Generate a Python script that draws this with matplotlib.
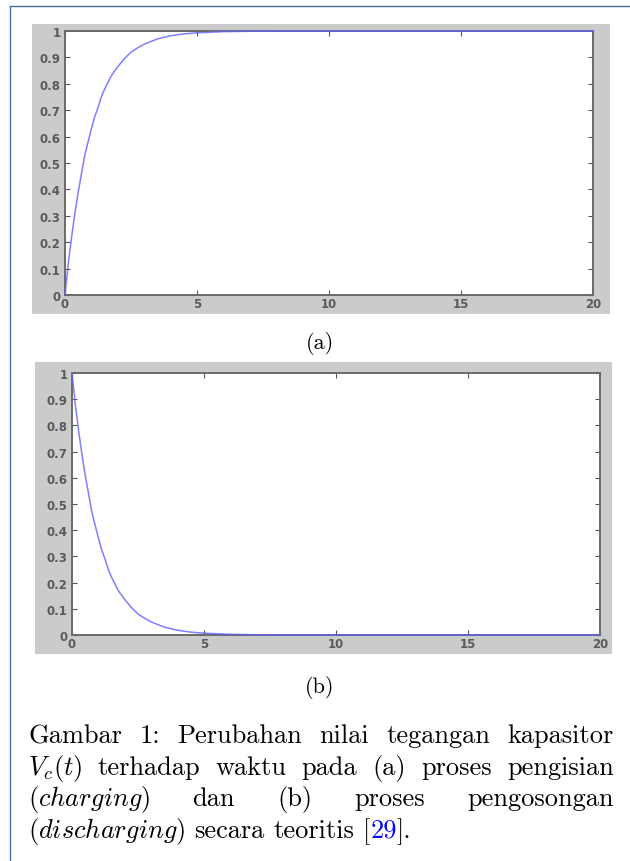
import matplotlib
matplotlib.use("Agg")
import matplotlib.pyplot as plt
from matplotlib.patches import Rectangle
from matplotlib.lines import Line2D

plt.rcParams['mathtext.fontset'] = 'cm'

W, H = 630, 862

# data: time (s) and normalised capacitor voltage
t_charge = [0, 0.125, 0.25, 0.375, 0.5, 0.625, 0.75, 0.875, 1, 1.125, 1.25, 1.375,
            1.5, 1.75, 2, 2.25, 2.5, 2.75, 3, 3.5, 4, 4.5, 5, 6, 7, 8, 10, 15, 20]
v_charge = [0, 0.12, 0.22, 0.31, 0.39, 0.46, 0.53, 0.58, 0.63, 0.675, 0.71, 0.75,
            0.78, 0.83, 0.865, 0.895, 0.92, 0.936, 0.95, 0.97, 0.982, 0.989, 0.993,
            0.9975, 0.999, 1.0, 1.0, 1.0, 1.0]
t_discharge = [0, 0.125, 0.25, 0.375, 0.5, 0.625, 0.75, 0.875, 1, 1.125, 1.25, 1.375,
               1.5, 1.75, 2, 2.25, 2.5, 2.75, 3, 3.5, 4, 4.5, 5, 6, 7, 8, 10, 15, 20]
v_discharge = [1, 0.88, 0.78, 0.69, 0.61, 0.54, 0.47, 0.42, 0.37, 0.325, 0.29, 0.25,
               0.22, 0.17, 0.135, 0.105, 0.08, 0.064, 0.05, 0.03, 0.018, 0.011, 0.007,
               0.0025, 0.001, 0, 0, 0, 0]

x_ticks = [0, 5, 10, 15, 20]
y_ticks = [0, 0.1, 0.2, 0.3, 0.4, 0.5, 0.6, 0.7, 0.8, 0.9, 1]
y_labels = ['0', '0.1', '0.2', '0.3', '0.4', '0.5', '0.6', '0.7', '0.8', '0.9', '1']

caption_lines = [
    ["Gambar", "1:", "Perubahan", "nilai", "tegangan", "kapasitor"],
    ["$V_c(t)$", "terhadap", "waktu", "pada", "(a)", "proses", "pengisian"],
    ["($\\mathit{charging}$)", "dan", "(b)", "proses", "pengosongan"],
    ["($\\mathit{discharging}$)", "secara", "teoritis", "[29]."],
]


def fx(px):
    return px / W


def fy(py):
    return 1 - py / H


def rect(l, t, r, b):
    return [fx(l), fy(b), fx(r) - fx(l), fy(t) - fy(b)]


fig = plt.figure(figsize=(W / 100, H / 100), dpi=100)
fig.patch.set_facecolor('white')

# thin frame of the page box
fig.add_artist(Line2D([fx(9.5), fx(9.5)], [fy(7), 0], color='#4f6f92', lw=1.0))
fig.add_artist(Line2D([fx(9.5), 1], [fy(7), fy(7)], color='#4f6f92', lw=1.0))


def panel(box, axrect, t, v):
    bl, bt, br, bb = box
    fig.add_artist(Rectangle((fx(bl), fy(bb)), fx(br) - fx(bl), fy(bt) - fy(bb),
                             transform=fig.transFigure, facecolor='#cbcbcb',
                             edgecolor='none', zorder=0))
    ax = fig.add_axes(rect(*axrect))
    ax.set_facecolor('white')
    ax.plot(t, v, color='#5f5fff', lw=1.1, alpha=0.8, clip_on=False, zorder=3)
    ax.set_xlim(0, 20)
    ax.set_ylim(0, 1)
    ax.set_xticks(x_ticks)
    ax.set_xticklabels([str(x) for x in x_ticks])
    ax.set_yticks(y_ticks)
    ax.set_yticklabels(y_labels)
    ax.tick_params(direction='in', length=3.5, width=0.8, color='#555555',
                   top=True, right=True, labelsize=8.5, labelcolor='#5a5a5a')
    ax.tick_params(axis='x', pad=1.5)
    ax.tick_params(axis='y', pad=3)
    for lab in ax.get_xticklabels() + ax.get_yticklabels():
        lab.set_fontweight('bold')
    for sp in ax.spines.values():
        sp.set_color('#6a6a6a')
        sp.set_linewidth(1.4)
    return ax


panel((32, 25, 610, 315), (65, 32, 593, 296), t_charge, v_charge)
panel((35, 363, 612, 655), (72, 374, 600, 636), t_discharge, v_discharge)

fig.text(fx(320), fy(349), "(a)", family='cmr10', fontsize=16,
         ha='center', va='baseline')
fig.text(fx(320), fy(693), "(b)", family='cmr10', fontsize=16,
         ha='center', va='baseline')

# justified caption, placed word by word
fs = 19
renderer = fig.canvas.get_renderer()
x_left, x_right = 28, 614
baselines = [743, 775, 806, 838]
for i, (words, yb) in enumerate(zip(caption_lines, baselines)):
    last = i == len(caption_lines) - 1
    arts = []
    for w in words:
        if w == "[29].":
            parts = [("[", 'black'), ("29", 'blue'), ("].", 'black')]
        else:
            parts = [(w, 'black')]
        group = []
        for txt, col in parts:
            a = fig.text(0, fy(yb), txt, family='cmr10', fontsize=fs,
                         color=col, va='baseline', ha='left')
            group.append(a)
        arts.append(group)
    widths = []
    for group in arts:
        ws = [a.get_window_extent(renderer).width for a in group]
        widths.append(ws)
    total = sum(sum(ws) for ws in widths)
    if last:
        gap = fs * 100 / 72 * 0.333
    else:
        gap = (x_right - x_left - total) / (len(words) - 1)
    x = x_left
    for group, ws in zip(arts, widths):
        for a, wdt in zip(group, ws):
            a.set_x(fx(x))
            x += wdt
        x += gap

fig.savefig('out.png', dpi=100)
